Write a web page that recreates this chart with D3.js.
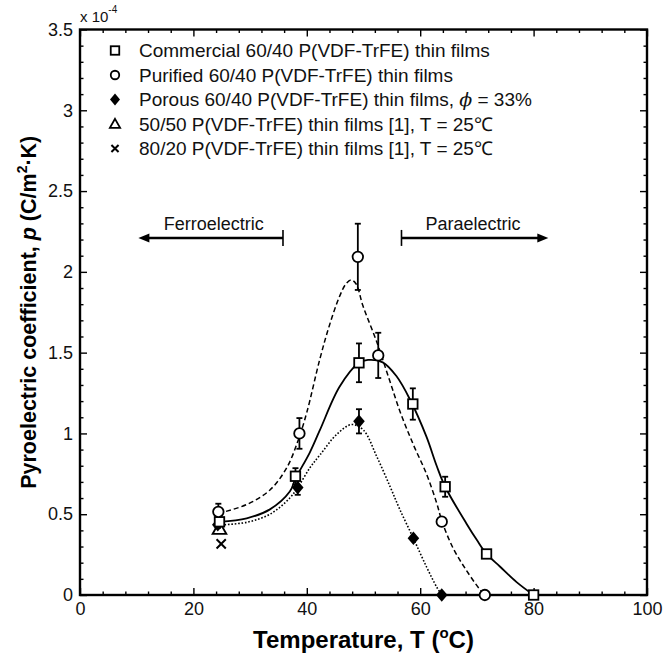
<!DOCTYPE html>
<html>
<head>
<meta charset="utf-8">
<script src="https://cdn.jsdelivr.net/npm/d3@7"></script>
<style>
  body { margin: 0; background: #fff; }
</style>
</head>
<body>
<div id="chart"></div>
<script>
// ---- data (p in units of 1e-4 C/m2.K) ----
const commercialT = [24.6, 38.0, 49.2, 58.7, 64.4, 71.7, 80.0];
const commercialP = [0.453, 0.735, 1.437, 1.182, 0.670, 0.254, 0];
const commercialErr = [0.02, 0.05, 0.12, 0.097, 0.062, 0, 0];

const purifiedT = [24.4, 38.7, 49.0, 52.6, 63.8, 71.4];
const purifiedP = [0.515, 1.0, 2.093, 1.483, 0.454, 0];
const purifiedErr = [0.05, 0.095, 0.205, 0.14, 0.02, 0];

const porousT = [24.3, 38.4, 49.2, 58.8, 63.8];
const porousP = [0.435, 0.665, 1.075, 0.351, 0];
const porousErr = [0.02, 0.045, 0.075, 0, 0];

const ref5050T = [24.6];
const ref5050P = [0.41];
const ref8020T = [24.9];
const ref8020P = [0.316];

// fitted guide curves
const commercialFitT = [24.6, 29.4, 33.5, 37.0, 38.0, 40.5, 42.3, 45.8, 49.2, 50.8, 53.4, 55.8, 58.2, 61.1, 62.9, 64.4, 68.2, 70.0, 71.7, 74.1, 77.0, 80.0];
const commercialFitP = [0.453, 0.475, 0.53, 0.64, 0.72, 0.88, 1.02, 1.29, 1.437, 1.455, 1.44, 1.355, 1.21, 0.98, 0.80, 0.67, 0.44, 0.34, 0.254, 0.175, 0.08, 0];

const purifiedFitT = [24.4, 29.4, 33.5, 36.5, 38.5, 40.0, 42.3, 44.0, 45.8, 46.9, 47.8, 48.7, 49.9, 52.3, 54.4, 56.5, 58.8, 61.1, 62.9, 63.9, 65.8, 68.1, 70.5, 71.4];
const purifiedFitP = [0.505, 0.56, 0.65, 0.79, 0.96, 1.13, 1.46, 1.67, 1.85, 1.925, 1.95, 1.925, 1.79, 1.57, 1.35, 1.13, 0.93, 0.75, 0.57, 0.45, 0.29, 0.155, 0.035, 0];

const porousFitT = [24.3, 29.4, 33.5, 37.0, 38.4, 40.6, 42.3, 45.3, 47.9, 50.0, 52.3, 54.7, 56.4, 58.8, 61.1, 62.9, 63.8];
const porousFitP = [0.433, 0.45, 0.5, 0.6, 0.665, 0.79, 0.866, 0.995, 1.055, 1.02, 0.86, 0.67, 0.53, 0.351, 0.175, 0.05, 0];

// phase annotations
const phaseLabels = ['Ferroelectric', 'Paraelectric'];
const phaseLabelT = [23.6, 69.3];
const phaseFromT = [35.8, 56.7];
const phaseToT = [10.3, 82.6];
const phaseP = 2.21;
const phaseLabelP = 2.262;

// axes
const xTicks = [0, 20, 40, 60, 80, 100];
const xTickLabels = ['0', '20', '40', '60', '80', '100'];
const yTicks = [0, 0.5, 1, 1.5, 2, 2.5, 3, 3.5];
const yTickLabels = ['0', '0.5', '1', '1.5', '2', '2.5', '3', '3.5'];

const legendLabels = [
  'Commercial 60/40 P(VDF-TrFE) thin films',
  'Purified 60/40 P(VDF-TrFE) thin films',
  'Porous 60/40 P(VDF-TrFE) thin films, ',
  '50/50 P(VDF-TrFE) thin films [1], T = 25\u2103',
  '80/20 P(VDF-TrFE) thin films [1], T = 25\u2103'
];
const legendMarkers = ['square', 'circle', 'diamond', 'triangle', 'cross'];

// ---- layout ----
const w = 663;
const h = 660;
const margin = { top: 29.5, right: 16, bottom: 65, left: 80 };
const font = 'Arial, "Liberation Sans", Helvetica, sans-serif';

const xScale = d3.scaleLinear().domain([0, 100]).range([margin.left, w - margin.right]);
const yScale = d3.scaleLinear().domain([0, 3.5]).range([h - margin.bottom, margin.top]);

const svg = d3.select('#chart')
  .append('svg')
  .attr('width', w)
  .attr('height', h)
  .style('font-family', font);

// ---- axes ----
const bottom = h - margin.bottom;
const right = w - margin.right;
const xMinor = d3.range(0, 101, 4).filter(v => !xTicks.includes(v));
const yMinor = d3.range(0, 35).map(v => v / 10).filter(v => !yTicks.includes(v));

function addAxis(axis, tx, ty, cls) {
  const g = svg.append('g')
    .attr('class', cls)
    .attr('transform', `translate(${tx}, ${ty})`)
    .call(axis);
  g.select('.domain').remove();
  g.selectAll('.tick line').attr('stroke', '#000').attr('stroke-width', 1.4);
  g.selectAll('.tick text').attr('fill', '#111').style('font-size', '18px').style('font-family', font);
  return g;
}

addAxis(d3.axisBottom(xScale).tickValues(xTicks).tickFormat((d, i) => xTickLabels[i])
  .tickSize(-7).tickPadding(7), 0, bottom, 'x-axis');
addAxis(d3.axisBottom(xScale).tickValues(xMinor).tickFormat('').tickSize(-3.5), 0, bottom, 'x-minor');
addAxis(d3.axisTop(xScale).tickValues(xTicks).tickFormat('').tickSize(-7), 0, margin.top, 'x-top');
addAxis(d3.axisTop(xScale).tickValues(xMinor).tickFormat('').tickSize(-3.5), 0, margin.top, 'x-top-minor');

addAxis(d3.axisLeft(yScale).tickValues(yTicks).tickFormat((d, i) => yTickLabels[i])
  .tickSize(-7).tickPadding(7), margin.left, 0, 'y-axis');
addAxis(d3.axisLeft(yScale).tickValues(yMinor).tickFormat('').tickSize(-3.5), margin.left, 0, 'y-minor');
addAxis(d3.axisRight(yScale).tickValues(yTicks).tickFormat('').tickSize(-7), right, 0, 'y-right');
addAxis(d3.axisRight(yScale).tickValues(yMinor).tickFormat('').tickSize(-3.5), right, 0, 'y-right-minor');

// frame
svg.append('rect')
  .attr('x', margin.left)
  .attr('y', margin.top)
  .attr('width', right - margin.left)
  .attr('height', bottom - margin.top)
  .attr('fill', 'none')
  .attr('stroke', '#000')
  .attr('stroke-width', 2.4);

// x 10^-4
const expo = svg.append('text')
  .attr('x', margin.left)
  .attr('y', 22)
  .style('font-size', '15px')
  .attr('fill', '#111');
expo.append('tspan').text('x 10');
expo.append('tspan').attr('dy', -9).style('font-size', '10px').text('-4');

// axis titles
const xTitle = svg.append('text')
  .attr('x', (margin.left + right) / 2)
  .attr('y', 648)
  .attr('text-anchor', 'middle')
  .style('font-size', '24px')
  .style('font-weight', 'bold')
  .attr('fill', '#000');
xTitle.append('tspan').text('Temperature, T (');
xTitle.append('tspan').attr('dy', -10).style('font-size', '15px').text('o');
xTitle.append('tspan').attr('dy', 10).text('C)');

const yTitle = svg.append('text')
  .attr('transform', `translate(36, ${(margin.top + bottom) / 2}) rotate(-90)`)
  .attr('text-anchor', 'middle')
  .style('font-size', '21.5px')
  .style('font-weight', 'bold')
  .attr('fill', '#000');
yTitle.append('tspan').text('Pyroelectric coefficient, ');
yTitle.append('tspan').style('font-style', 'italic').text('p');
yTitle.append('tspan').text(' (C/m');
yTitle.append('tspan').attr('dy', -9).style('font-size', '14px').text('2');
yTitle.append('tspan').attr('dy', 9).text('\u00b7K)');

// ---- fitted curves ----
const zip = (a, b) => a.map((v, i) => [v, b[i]]);
const line = d3.line()
  .x(d => xScale(d[0]))
  .y(d => yScale(d[1]))
  .curve(d3.curveCatmullRom.alpha(0.5));

svg.append('path')
  .datum(zip(purifiedFitT, purifiedFitP))
  .attr('fill', 'none')
  .attr('stroke', '#000')
  .attr('stroke-width', 1.5)
  .attr('stroke-dasharray', '5,3')
  .attr('d', line);

svg.append('path')
  .datum(zip(commercialFitT, commercialFitP))
  .attr('fill', 'none')
  .attr('stroke', '#000')
  .attr('stroke-width', 1.8)
  .attr('d', line);

svg.append('path')
  .datum(zip(porousFitT, porousFitP))
  .attr('fill', 'none')
  .attr('stroke', '#000')
  .attr('stroke-width', 1.6)
  .attr('stroke-dasharray', '1.6,1.8')
  .attr('d', line);

// ---- error bars ----
function errorBars(ts, ps, es) {
  const g = svg.append('g').attr('stroke', '#000').attr('stroke-width', 1.8);
  ts.forEach((t, i) => {
    if (!es[i]) return;
    const cx = xScale(t);
    const y1 = yScale(ps[i] + es[i]);
    const y2 = yScale(ps[i] - es[i]);
    g.append('line').attr('x1', cx).attr('x2', cx).attr('y1', y1).attr('y2', y2);
    g.append('line').attr('x1', cx - 3).attr('x2', cx + 3).attr('y1', y1).attr('y2', y1);
    g.append('line').attr('x1', cx - 3).attr('x2', cx + 3).attr('y1', y2).attr('y2', y2);
  });
}
errorBars(purifiedT, purifiedP, purifiedErr);
errorBars(commercialT, commercialP, commercialErr);
errorBars(porousT, porousP, porousErr);

// ---- markers ----
function marker(g, type, cx, cy, s) {
  if (type === 'square') {
    g.append('rect').attr('x', cx - s / 2).attr('y', cy - s / 2).attr('width', s).attr('height', s)
      .attr('fill', '#fff').attr('stroke', '#000').attr('stroke-width', 1.8);
  } else if (type === 'circle') {
    g.append('circle').attr('cx', cx).attr('cy', cy).attr('r', s / 2)
      .attr('fill', '#fff').attr('stroke', '#000').attr('stroke-width', 1.8);
  } else if (type === 'diamond') {
    const r = s * 0.62;
    g.append('path').attr('d', `M${cx},${cy - r}L${cx + r * 0.85},${cy}L${cx},${cy + r}L${cx - r * 0.85},${cy}Z`)
      .attr('fill', '#000');
  } else if (type === 'triangle') {
    const r = s * 0.6;
    g.append('path').attr('d', `M${cx},${cy - r}L${cx + r},${cy + r * 0.75}L${cx - r},${cy + r * 0.75}Z`)
      .attr('fill', 'none').attr('stroke', '#000').attr('stroke-width', 1.8);
  } else if (type === 'cross') {
    const r = s * 0.42;
    g.append('path').attr('d', `M${cx - r},${cy - r}L${cx + r},${cy + r}M${cx - r},${cy + r}L${cx + r},${cy - r}`)
      .attr('stroke', '#000').attr('stroke-width', 2);
  }
}

const marks = svg.append('g');
ref5050T.forEach((t, i) => marker(marks, 'triangle', xScale(t), yScale(ref5050P[i]), 11.5));
ref8020T.forEach((t, i) => marker(marks, 'cross', xScale(t), yScale(ref8020P[i]), 11));
porousT.forEach((t, i) => marker(marks, 'diamond', xScale(t), yScale(porousP[i]), 11));
commercialT.forEach((t, i) => marker(marks, 'square', xScale(t), yScale(commercialP[i]), 9.5));
purifiedT.forEach((t, i) => marker(marks, 'circle', xScale(t), yScale(purifiedP[i]), 10.5));

// ---- phase arrows ----
phaseLabels.forEach((label, i) => {
  const x0 = xScale(phaseFromT[i]);
  const x1 = xScale(phaseToT[i]);
  const yy = yScale(phaseP);
  const dir = Math.sign(x1 - x0);
  const g = svg.append('g');
  g.append('line').attr('x1', x0).attr('x2', x1 - dir * 9).attr('y1', yy).attr('y2', yy)
    .attr('stroke', '#000').attr('stroke-width', 2.4);
  g.append('line').attr('x1', x0).attr('x2', x0).attr('y1', yy - 8).attr('y2', yy + 8)
    .attr('stroke', '#000').attr('stroke-width', 1.6);
  g.append('path').attr('d', `M${x1},${yy}L${x1 - dir * 11},${yy - 4.5}L${x1 - dir * 11},${yy + 4.5}Z`)
    .attr('fill', '#000');
  g.append('text')
    .attr('x', xScale(phaseLabelT[i]))
    .attr('y', yScale(phaseLabelP))
    .attr('text-anchor', 'middle')
    .style('font-size', '18px')
    .attr('fill', '#111')
    .text(label);
});

// ---- legend ----
const legend = svg.append('g');
legendLabels.forEach((label, i) => {
  const yy = 50.5 + i * 24.5;
  marker(legend, legendMarkers[i], 115, yy, legendMarkers[i] === 'diamond' ? 9.5 : 8.5);
  const t = legend.append('text')
    .attr('x', 139)
    .attr('y', yy)
    .attr('dy', '0.36em')
    .style('font-size', '19px')
    .attr('fill', '#111');
  t.append('tspan').text(label);
  if (legendMarkers[i] === 'diamond') {
    t.append('tspan').style('font-style', 'italic').style('font-family', '"DejaVu Serif", serif').text('\u03d5');
    t.append('tspan').text(' = 33%');
  }
});
</script>
</body>
</html>
